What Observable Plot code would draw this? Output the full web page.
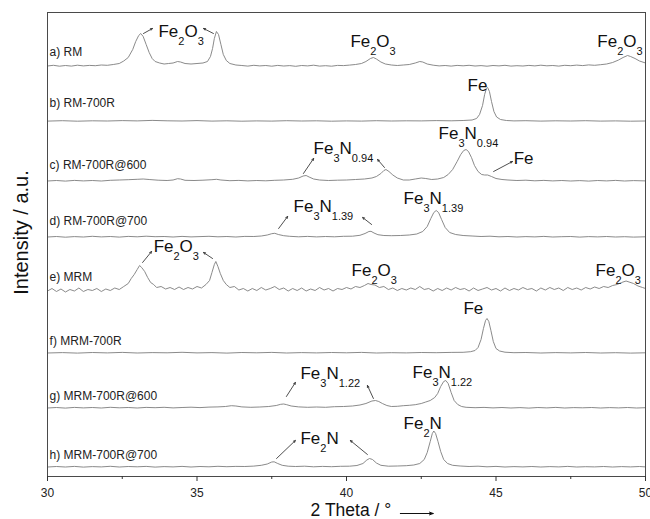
<!DOCTYPE html>
<html>
<head>
<meta charset="utf-8">
<script src="https://cdn.jsdelivr.net/npm/d3@7"></script>
<script src="https://cdn.jsdelivr.net/npm/@observablehq/plot@0.6"></script>
<style>
  html, body { margin: 0; padding: 0; background: #fff; }
  #chart svg { display: block; }
</style>
</head>
<body>
<div id="chart"></div>
<script>
// ---------- Data (2θ in degrees, intensity relative to each trace's baseline, a.u.) ----------
const rmPts = [[30,0.5],[30.2,1.2],[30.4,0.3],[30.6,1.0],[30.8,0.4],[31,1.3],[31.2,0.6],[31.4,1.1],[31.6,0.8],[31.8,1.5],[32,1.2],[32.2,2],[32.4,3],[32.55,5.5],[32.7,9],[32.85,17],[32.95,25],[33.05,31],[33.12,33],[33.2,30],[33.3,22],[33.4,14],[33.5,8],[33.6,5],[33.75,3.5],[33.9,2.5],[34.05,3],[34.2,3.5],[34.35,5],[34.45,4.5],[34.6,3],[34.8,2.5],[35,3],[35.2,3.5],[35.35,5],[35.45,10],[35.52,18],[35.58,28],[35.65,35],[35.72,32],[35.8,22],[35.88,12],[35.98,6],[36.1,3],[36.3,1.5],[36.5,1],[36.7,0.4],[36.9,1.2],[37.1,0.6],[37.3,1],[37.5,0.3],[37.7,1.1],[37.9,0.5],[38.1,0.9],[38.3,0.2],[38.5,1],[38.7,0.6],[38.9,1.3],[39.1,0.4],[39.3,0.8],[39.5,0.3],[39.7,1.1],[39.9,0.9],[40.1,1.4],[40.3,2],[40.5,3],[40.65,5],[40.8,8],[40.9,9],[41,7.5],[41.15,4.5],[41.3,2.5],[41.5,1.5],[41.7,1],[41.9,1.5],[42.1,2],[42.3,3.5],[42.45,5],[42.55,4.5],[42.7,2.5],[42.9,1.3],[43.1,0.6],[43.3,1],[43.5,0.4],[43.7,1.1],[43.9,0.7],[44.1,1.2],[44.3,0.5],[44.5,0.9],[44.7,0.3],[44.9,1],[45.1,0.6],[45.3,1.2],[45.5,0.4],[45.7,0.8],[45.9,0.5],[46.1,1.1],[46.3,0.6],[46.5,1.3],[46.7,0.7],[46.9,1],[47.1,0.4],[47.3,1.2],[47.5,0.8],[47.7,1.4],[47.9,0.9],[48.1,1.6],[48.3,1.2],[48.5,1.8],[48.7,2.5],[48.9,4],[49.1,6.5],[49.25,9],[49.4,11],[49.5,10],[49.65,8],[49.8,5.5],[50,3.5]];

const rm700rPts = [[30,0.4],[30.5,0.8],[31,0.3],[31.5,0.7],[32,0.5],[32.5,0.9],[33,0.6],[33.5,1.1],[34,0.7],[34.5,0.5],[35,0.9],[35.5,0.4],[36,0.7],[36.5,0.3],[37,0.6],[37.5,0.4],[38,0.8],[38.5,0.5],[39,0.7],[39.5,0.3],[40,0.6],[40.5,0.4],[41,0.8],[41.5,0.5],[42,0.7],[42.5,0.6],[43,0.9],[43.5,0.7],[43.9,1],[44.2,1.5],[44.35,3],[44.45,7],[44.55,16],[44.62,27],[44.68,33],[44.72,34],[44.78,30],[44.85,20],[44.93,10],[45.02,4.5],[45.15,2],[45.35,1],[45.6,0.6],[46,0.8],[46.5,0.4],[47,0.7],[47.5,0.5],[48,0.8],[48.5,0.4],[49,0.6],[49.5,0.3],[50,0.5]];

const rm700r600Pts = [[30,0.5],[30.3,1],[30.6,0.4],[30.9,1.1],[31.2,0.6],[31.5,1],[31.8,0.5],[32.1,1.2],[32.4,1.5],[32.7,1.8],[33,2.2],[33.2,2.5],[33.4,2],[33.7,1.3],[34,1],[34.2,1.5],[34.35,2.8],[34.45,2.5],[34.6,1.2],[34.9,1],[35.2,1.3],[35.5,1.8],[35.65,2.2],[35.8,1.5],[36.1,0.8],[36.4,1.1],[36.7,0.6],[37,1],[37.3,0.7],[37.6,1.2],[37.9,1.5],[38.2,2.2],[38.4,3.5],[38.55,5.5],[38.65,6],[38.75,4.5],[38.9,2.5],[39.1,1.5],[39.4,1],[39.7,1.3],[40,1.5],[40.3,2],[40.6,2.5],[40.85,3.5],[41,5],[41.15,8],[41.25,11],[41.32,12],[41.42,10],[41.55,6.5],[41.7,3.5],[41.9,1.5],[42.1,1.5],[42.3,2.5],[42.5,3.5],[42.65,3],[42.85,2],[43.05,2.5],[43.25,4],[43.4,7],[43.55,12],[43.7,20],[43.82,27],[43.92,31],[44,32],[44.08,30],[44.18,24],[44.28,16],[44.4,10],[44.52,7],[44.62,6.5],[44.72,6.5],[44.85,5],[45,3],[45.2,2],[45.4,1.5],[45.7,1],[46,1.3],[46.3,0.7],[46.6,1.1],[46.9,0.6],[47.2,1],[47.5,0.5],[47.8,0.9],[48.1,0.4],[48.4,1],[48.7,0.6],[49,1.1],[49.3,0.5],[49.6,0.9],[50,0.6]];

const rm700r700Pts = [[30,0.5],[30.3,1],[30.6,0.3],[30.9,0.9],[31.2,0.5],[31.5,1.2],[31.8,0.6],[32.1,1],[32.4,0.4],[32.7,1.1],[33,0.7],[33.3,1.3],[33.6,0.8],[33.9,1],[34.2,0.5],[34.5,1.1],[34.8,0.6],[35.1,0.9],[35.4,1.2],[35.7,0.7],[36,1],[36.3,0.5],[36.6,1.1],[36.9,1],[37.15,1.5],[37.35,2.5],[37.5,3.8],[37.6,4.2],[37.72,3],[37.9,1.8],[38.1,1.2],[38.4,0.7],[38.7,1.1],[39,0.6],[39.3,1],[39.6,0.7],[39.9,1.2],[40.2,1.3],[40.45,2.2],[40.62,4],[40.75,6],[40.82,6.2],[40.92,4.5],[41.05,2.8],[41.25,2],[41.5,1.8],[41.8,2],[42.1,2.5],[42.35,3.5],[42.55,6],[42.7,11],[42.82,19],[42.92,25],[43,27],[43.08,25],[43.18,18],[43.3,10],[43.45,5],[43.65,3],[43.9,2],[44.2,1.5],[44.5,1],[44.8,1.3],[45.1,0.7],[45.4,1],[45.7,0.5],[46,0.9],[46.3,0.6],[46.6,1.1],[46.9,0.5],[47.2,0.8],[47.5,1],[47.8,0.4],[48.1,0.9],[48.4,0.6],[48.7,1],[49,0.5],[49.3,0.8],[49.6,0.4],[50,0.7]];

const mrmPts = [[30,1.5],[30.15,4],[30.3,1],[30.45,3.5],[30.6,0.5],[30.75,3],[30.9,1.5],[31.05,4.5],[31.2,1],[31.35,3],[31.5,2],[31.65,4],[31.8,1],[31.95,3.5],[32.1,2],[32.25,4.5],[32.4,3],[32.55,6],[32.7,9],[32.8,14],[32.9,18],[33,23],[33.08,27],[33.15,25],[33.25,21],[33.35,15],[33.45,10],[33.55,8],[33.65,5],[33.8,6],[33.95,3.5],[34.1,5],[34.25,3],[34.4,5.5],[34.55,3],[34.7,5],[34.85,3.5],[35,6],[35.15,4.5],[35.3,8],[35.42,12],[35.5,20],[35.58,28],[35.63,31],[35.7,26],[35.78,19],[35.88,12],[35.98,8],[36.1,5],[36.25,6],[36.4,2.5],[36.55,4],[36.7,1.5],[36.85,4],[37,2],[37.15,5],[37.3,2.5],[37.45,4],[37.6,6],[37.75,3],[37.9,4.5],[38.05,1.5],[38.2,4],[38.35,2],[38.5,4.5],[38.65,1.5],[38.8,3.5],[38.95,2],[39.1,5],[39.25,2.5],[39.4,4],[39.55,1.5],[39.7,4],[39.85,3],[40,5],[40.15,3.5],[40.3,6],[40.45,5],[40.6,7],[40.72,9],[40.82,8],[40.95,7.5],[41.1,5],[41.25,6],[41.4,3],[41.55,4.5],[41.7,2],[41.85,4],[42,2.5],[42.15,4.5],[42.3,3],[42.45,6],[42.6,3],[42.75,4],[42.9,1.5],[43.05,4],[43.2,2],[43.35,4.5],[43.5,2.5],[43.65,5],[43.8,3],[43.95,4],[44.1,1.5],[44.25,4.5],[44.4,2],[44.55,3.5],[44.7,5],[44.85,2.5],[45,4],[45.15,1.5],[45.3,4.5],[45.45,2],[45.6,4],[45.75,2.5],[45.9,5],[46.05,3],[46.2,4],[46.35,1.5],[46.5,4.5],[46.65,2.5],[46.8,5],[46.95,3],[47.1,4.5],[47.25,2],[47.4,5],[47.55,3],[47.7,4.5],[47.85,2.5],[48,5],[48.15,3.5],[48.3,5.5],[48.45,4],[48.6,6],[48.75,5],[48.9,7],[49.05,8],[49.2,10],[49.35,11.5],[49.45,10.5],[49.6,9],[49.75,6.5],[49.9,5],[50,4]];

const mrm700rPts = [[30,0.5],[30.5,0.9],[31,0.4],[31.5,1],[32,0.6],[32.5,1.1],[33,0.5],[33.5,0.9],[34,0.7],[34.5,1.2],[35,0.6],[35.5,0.9],[36,0.4],[36.5,1],[37,0.7],[37.5,1.1],[38,0.5],[38.5,0.9],[39,0.6],[39.5,1],[40,0.7],[40.5,1.1],[41,0.5],[41.5,0.8],[42,0.6],[42.5,1],[43,0.8],[43.5,1.1],[43.9,1.2],[44.15,1.8],[44.3,3],[44.4,6],[44.5,14],[44.58,25],[44.65,33],[44.7,35],[44.76,32],[44.83,23],[44.91,12],[45,5],[45.12,2.5],[45.3,1.3],[45.6,0.8],[46,1],[46.5,0.5],[47,0.9],[47.5,0.6],[48,1],[48.5,0.5],[49,0.8],[49.5,0.4],[50,0.7]];

const mrm700r600Pts = [[30,0.5],[30.3,1],[30.6,0.4],[30.9,1.1],[31.2,0.6],[31.5,1],[31.8,0.5],[32.1,1.2],[32.4,0.7],[32.7,1],[33,0.5],[33.3,1.1],[33.6,0.8],[33.9,1.2],[34.2,0.6],[34.5,1],[34.8,1.3],[35.1,0.9],[35.4,1.4],[35.7,1.6],[35.95,2],[36.15,2.8],[36.3,2.5],[36.5,1.6],[36.8,1.2],[37.1,1.5],[37.4,2],[37.65,3],[37.8,4.2],[37.9,4.5],[38,3.8],[38.15,2.5],[38.4,1.6],[38.7,1.2],[39,1.5],[39.3,1.2],[39.6,1.8],[39.9,2],[40.2,2.5],[40.45,3.5],[40.65,5],[40.85,7.5],[40.97,8],[41.08,7],[41.2,5],[41.35,3],[41.5,2],[41.7,2.2],[41.9,2.8],[42.1,3.2],[42.3,3.8],[42.5,5],[42.65,6.5],[42.8,8],[42.95,11],[43.05,15],[43.15,22],[43.25,27],[43.32,28],[43.4,25],[43.5,16],[43.6,8],[43.72,4],[43.85,2],[44,1.2],[44.3,0.8],[44.6,1.1],[44.9,0.6],[45.2,1],[45.5,0.5],[45.8,0.9],[46.1,0.4],[46.4,1],[46.7,0.6],[47,1.1],[47.3,0.5],[47.6,0.9],[47.9,0.7],[48.2,1],[48.5,0.5],[48.8,0.9],[49.1,0.6],[49.4,1],[49.7,0.5],[50,0.8]];

const mrm700r700Pts = [[30,0.5],[30.3,1],[30.6,0.5],[30.9,1.1],[31.2,0.4],[31.5,0.9],[31.8,0.6],[32.1,1.2],[32.4,0.5],[32.7,1],[33,0.7],[33.3,1.1],[33.6,0.4],[33.9,0.9],[34.2,0.6],[34.5,1.1],[34.8,0.5],[35.1,1],[35.4,0.7],[35.7,1.2],[36,0.8],[36.3,1.1],[36.6,1],[36.9,1.4],[37.15,2.2],[37.35,3.5],[37.5,5.5],[37.58,5.7],[37.7,4],[37.85,2.2],[38.05,1.3],[38.3,1],[38.6,1.3],[38.9,0.7],[39.2,1.1],[39.5,0.8],[39.8,1.2],[40.1,1.3],[40.35,2],[40.55,4],[40.68,7.5],[40.77,9],[40.87,8],[41,4.5],[41.15,2.2],[41.4,1.3],[41.7,1.5],[42,1.8],[42.25,2.5],[42.45,4],[42.6,8],[42.7,15],[42.8,26],[42.87,34],[42.92,36.5],[42.98,34],[43.06,26],[43.15,16],[43.25,8],[43.38,4],[43.55,2.2],[43.8,1.5],[44.1,1],[44.4,1.3],[44.7,0.7],[45,1.1],[45.3,0.5],[45.6,0.9],[45.9,0.6],[46.2,1],[46.5,0.5],[46.8,0.9],[47.1,0.6],[47.4,1.1],[47.7,0.5],[48,0.8],[48.3,0.6],[48.6,1],[48.9,0.5],[49.2,0.9],[49.5,0.6],[49.8,1],[50,0.6]];

// sample names, stacking offsets (a.u.) and label heights
const sampleNames   = ["a) RM", "b) RM-700R", "c) RM-700R@600", "d) RM-700R@700", "e) MRM", "f) MRM-700R", "g) MRM-700R@600", "h) MRM-700R@700"];
const sampleOffsets = [410, 355, 295, 239, 184, 123, 68, 9];
const samplePoints  = [rmPts, rm700rPts, rm700r600Pts, rm700r700Pts, mrmPts, mrm700rPts, mrm700r600Pts, mrm700r700Pts];
const labelHeights  = [421, 370, 308, 252, 196, 132, 77, 18];

// phase annotations: text (with _{} subscripts), x (deg), y (a.u.)
const annoText = ["Fe_{2}O_{3}","Fe_{2}O_{3}","Fe_{2}O_{3}","Fe","Fe_{3}N_{0.94}","Fe_{3}N_{0.94}","Fe","Fe_{3}N_{1.39}","Fe_{3}N_{1.39}","Fe_{2}O_{3}","Fe_{2}O_{3}","Fe_{2}O_{3}","Fe","Fe_{3}N_{1.22}","Fe_{3}N_{1.22}","Fe_{2}N","Fe_{2}N"];
const annoX    = [33.71, 40.13, 48.39, 44.05, 38.90, 43.08, 45.59, 38.23, 41.91, 33.55, 40.17, 48.33, 43.91, 38.46, 42.21, 38.46, 41.91];
const annoY    = [440, 430, 430, 386, 323, 338, 313, 265, 273, 225, 201, 201, 163, 98, 99, 33, 48];

// arrows from peak (x1,y1) toward label (x2,y2)
const arrowX1 = [33.21, 35.55, 38.56, 41.27, 44.92, 37.73, 40.84, 33.18, 35.52, 37.99, 40.90, 37.66, 40.70];
const arrowY1 = [443, 443, 303, 309, 305, 248, 252, 214, 218, 80, 78, 18, 22];
const arrowX2 = [33.51, 35.22, 38.90, 41.04, 45.55, 38.03, 40.54, 33.48, 35.22, 38.29, 40.70, 38.29, 40.13];
const arrowY2 = [448, 448, 318, 317, 315, 260, 259, 225, 224, 94, 91, 36, 36];

const majorTicks = [30, 35, 40, 45, 50];
const minorTicks = [32.5, 37.5, 42.5, 47.5];

// ---------- Build tables ----------
const traces = samplePoints.flatMap((pts, i) =>
  pts.map(([x, v]) => ({sample: sampleNames[i], x, y: v + sampleOffsets[i]})));
const labels = sampleNames.map((name, i) => ({name, y: labelHeights[i]}));
const annos = annoText.map((t, i) => ({t, x: annoX[i], y: annoY[i]}));
const arrows = arrowX1.map((x1, i) => ({x1, y1: arrowY1[i], x2: arrowX2[i], y2: arrowY2[i]}));

const font = "'Liberation Sans', Arial, Helvetica, sans-serif";

const svg = Plot.plot({
  width: 650,
  height: 519,
  marginTop: 12,
  marginBottom: 43,
  marginLeft: 47,
  marginRight: 5,
  style: {fontFamily: font, background: "#fff", color: "#222"},
  x: {domain: [30, 50], axis: null},
  y: {domain: [0, 464], axis: null},
  marks: [
    Plot.line(traces, {x: "x", y: "y", z: "sample", stroke: "#7d7d7d", strokeWidth: 0.9, curve: "linear"}),
    Plot.frame({stroke: "#4a4a4a", strokeWidth: 1}),
    Plot.axisX({ticks: majorTicks, tickSize: 5, tickFormat: d => String(d), fontSize: 12, tickPadding: 7, label: null, stroke: "#333"}),
    Plot.axisX({ticks: minorTicks, tickSize: 3, text: null, label: null, stroke: "#333"}),
    Plot.text(labels, {x: 30.07, y: "y", text: "name", textAnchor: "start", lineAnchor: "bottom", fontSize: 12, fill: "#222"}),
    Plot.text(annos, {x: "x", y: "y", text: "t", textAnchor: "start", lineAnchor: "bottom", fontSize: 17, fill: "#111"}),
    Plot.arrow(arrows, {x1: "x1", y1: "y1", x2: "x2", y2: "y2", stroke: "#222", strokeWidth: 0.8, headLength: 4, headAngle: 50}),
    // axis titles
    Plot.text(["2 Theta / °"], {x: 38.80, y: -39, text: d => d, textAnchor: "start", lineAnchor: "bottom", fontSize: 17.5, fill: "#111"}),
    Plot.arrow([{a: 41.80, b: 42.90}], {x1: "a", x2: "b", y1: -37, y2: -37, stroke: "#111", strokeWidth: 1, headLength: 6, headAngle: 40}),
    Plot.text(["Intensity / a.u."], {frameAnchor: "left", dx: -26, y: 244, text: d => d, rotate: -90, textAnchor: "middle", lineAnchor: "middle", fontSize: 20, fill: "#111"})
  ]
});

// Convert "_{...}" markup to subscript tspans (text stays real text)
d3.select(svg).selectAll("text").each(function () {
  const s = this.textContent;
  if (!s || s.indexOf("_{") < 0) return;
  const parts = s.split(/_\{([^}]*)\}/);
  this.textContent = "";
  let shifted = false;
  parts.forEach((p, i) => {
    const isSub = i % 2 === 1;
    if (p === "") return;
    const t = document.createElementNS("http://www.w3.org/2000/svg", "tspan");
    t.textContent = p;
    if (isSub) {
      t.setAttribute("font-size", "11");
      if (!shifted) { t.setAttribute("dy", "8"); shifted = true; }
    } else if (shifted) {
      t.setAttribute("dy", "-8"); shifted = false;
    }
    this.appendChild(t);
  });
});

document.getElementById("chart").appendChild(svg);
</script>
</body>
</html>
